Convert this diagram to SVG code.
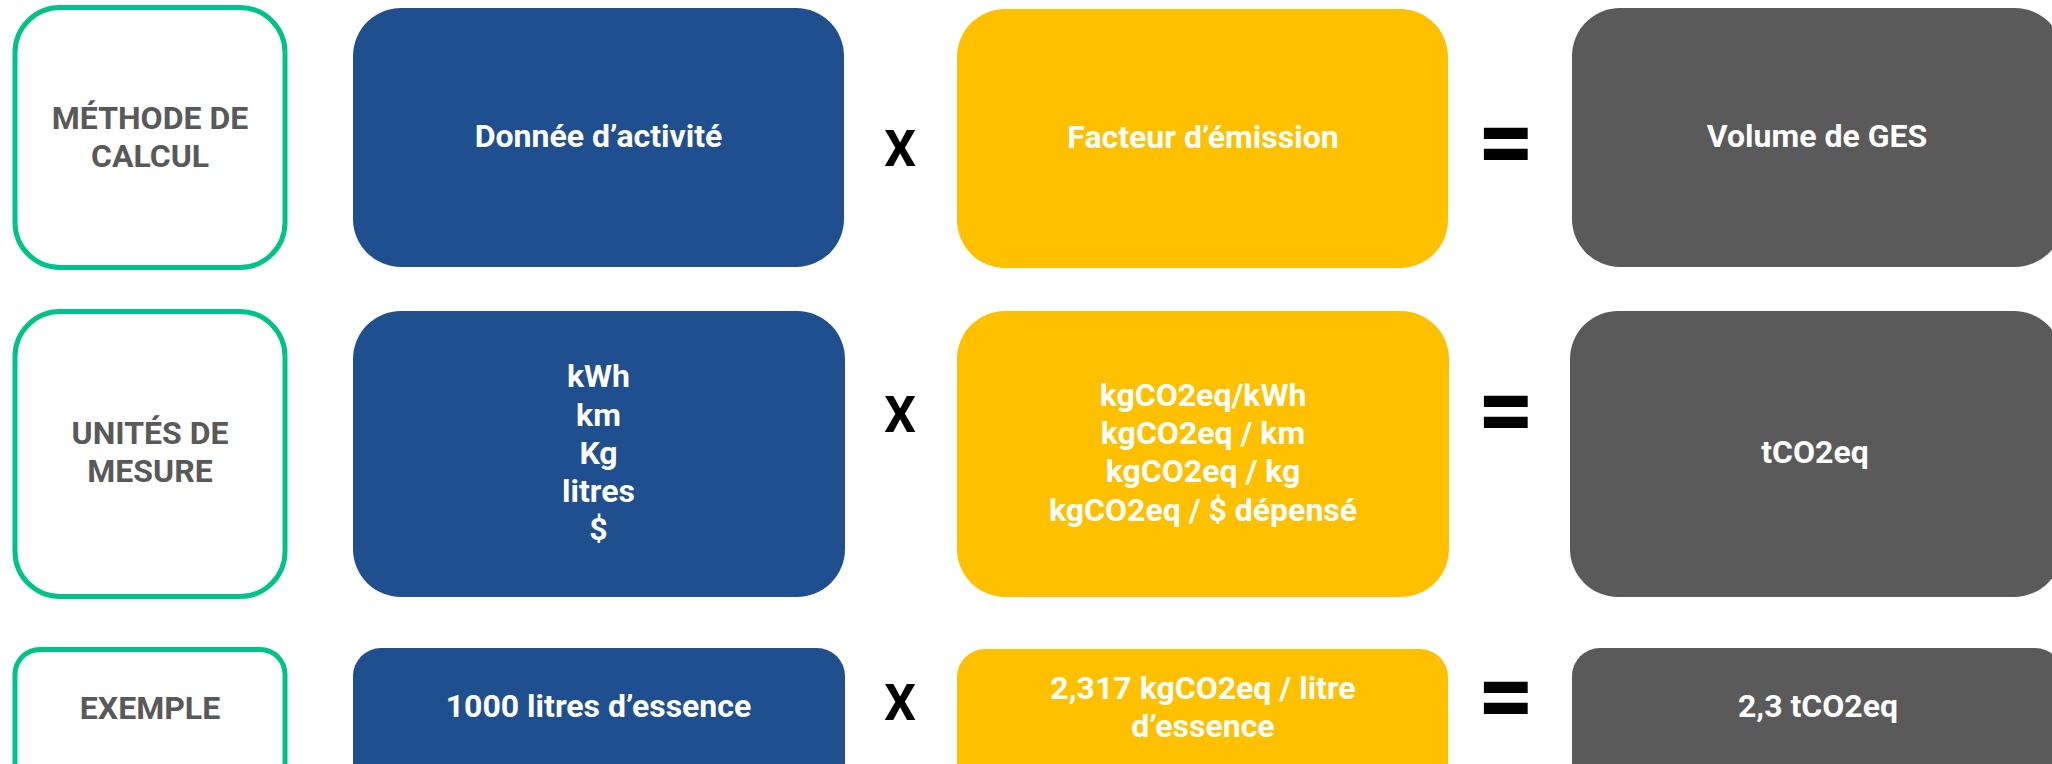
<svg xmlns="http://www.w3.org/2000/svg" width="2052" height="764" viewBox="0 0 2052 764">
<style>
.lbl{fill:#fff;stroke:#00c389;stroke-width:5}
.blue{fill:#1f4f8f}
.yel{fill:#ffc000}
.gray{fill:#5a5a5a}
text{font-family:Roboto,"Liberation Sans",sans-serif;font-weight:bold;text-anchor:middle}
.tl{fill:#595959;font-size:32px}
.tw{fill:#fff;font-size:32px}
.op{fill:#000;font-size:50px}
.eq{fill:#000;font-size:100px}
</style>
<rect width="2052" height="764" fill="#fff"/>
<g id="row1">
<g id="methode"><rect class="lbl" x="15" y="7.5" width="270" height="260" rx="45"/><text class="tl" x="150" y="129">MÉTHODE DE</text><text class="tl" x="150" y="167">CALCUL</text></g>
<g id="donnee"><rect class="blue" x="353" y="8" width="491" height="259" rx="48"/><text class="tw" x="598.5" y="147">Donnée d’activité</text></g>
<g id="facteur"><rect class="yel" x="957" y="9" width="491" height="259" rx="48"/><text class="tw" x="1203" y="148">Facteur d’émission</text></g>
<g id="volume"><rect class="gray" x="1572" y="8" width="491" height="259" rx="48"/><text class="tw" x="1817" y="147">Volume de GES</text></g>
</g>
<g id="row2">
<g id="unites"><rect class="lbl" x="15" y="311.5" width="270" height="285" rx="45"/><text class="tl" x="150" y="444">UNITÉS DE</text><text class="tl" x="150" y="482">MESURE</text></g>
<g id="unites-activite"><rect class="blue" x="353" y="311" width="492" height="286" rx="48"/>
<text class="tw" x="598.5" y="387">kWh</text><text class="tw" x="598.5" y="425.5">km</text><text class="tw" x="598.5" y="463.5">Kg</text><text class="tw" x="598.5" y="501.5">litres</text><text class="tw" x="598.5" y="539.5">$</text></g>
<g id="unites-facteur"><rect class="yel" x="957" y="311" width="492" height="286" rx="48"/>
<text class="tw" x="1203" y="406">kgCO2eq/kWh</text><text class="tw" x="1203" y="444">kgCO2eq / km</text><text class="tw" x="1203" y="482">kgCO2eq / kg</text><text class="tw" x="1203" y="521">kgCO2eq / $ dépensé</text></g>
<g id="unites-volume"><rect class="gray" x="1570" y="311" width="492" height="286" rx="48"/><text class="tw" x="1815" y="463">tCO2eq</text></g>
</g>
<g id="row3">
<g id="exemple"><rect class="lbl" x="15" y="649.5" width="270" height="150" rx="25"/><text class="tl" x="150" y="719">EXEMPLE</text></g>
<g id="ex-activite"><rect class="blue" x="353" y="648" width="492" height="150" rx="28"/><text class="tw" x="598.5" y="717">1000 litres d’essence</text></g>
<g id="ex-facteur"><rect class="yel" x="957" y="649" width="491" height="150" rx="28"/><text class="tw" x="1203" y="699">2,317 kgCO2eq / litre</text><text class="tw" x="1203" y="737">d’essence</text></g>
<g id="ex-volume"><rect class="gray" x="1572" y="648" width="491" height="150" rx="28"/><text class="tw" x="1818" y="717">2,3 tCO2eq</text></g>
</g>
<g id="connectors">
<text class="op" x="900" y="166">X</text>
<text class="op" x="900" y="432">X</text>
<text class="op" x="900" y="720">X</text>
<text class="eq" x="1506" y="176">=</text>
<text class="eq" x="1506" y="444">=</text>
<text class="eq" x="1506" y="730">=</text>
</g>
</svg>
